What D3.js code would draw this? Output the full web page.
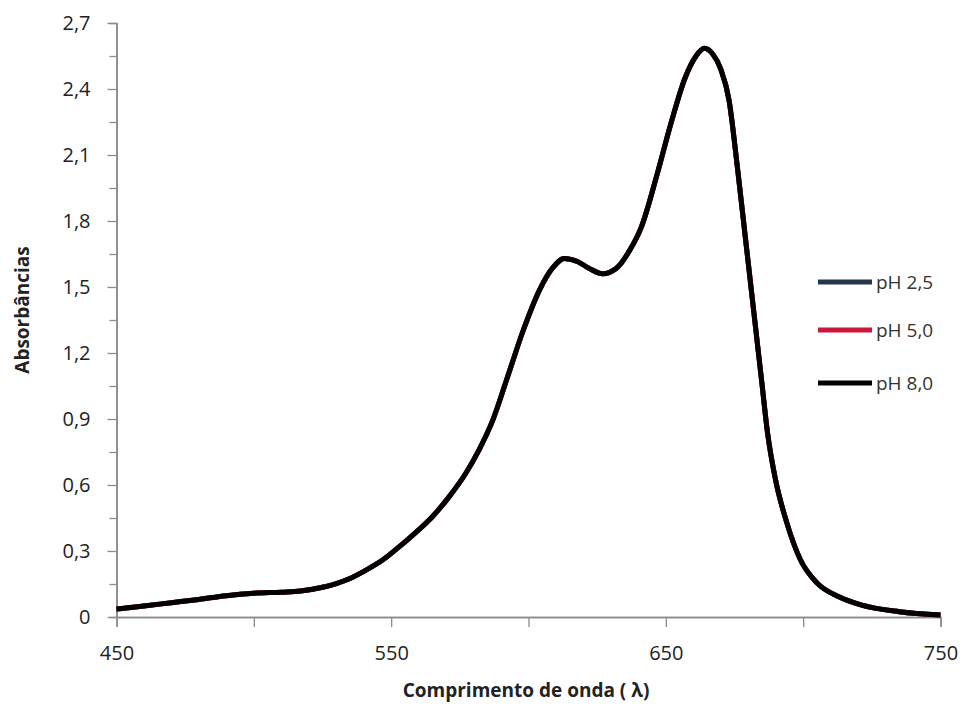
<!DOCTYPE html>
<html>
<head>
<meta charset="utf-8">
<script src="https://cdn.jsdelivr.net/npm/d3@7"></script>
<style>
  body { margin: 0; background: #fff; }
  svg { display: block; font-family: "Open Sans", "DejaVu Sans", sans-serif; }
</style>
</head>
<body>
<script>
// wavelengths (nm)
var wavelengths = [450, 460, 470, 480, 490, 500, 510, 517, 525, 530, 535, 541, 547, 553, 559, 565, 571, 577,
  582, 587, 592, 598, 604, 609, 613, 618, 622, 627, 632, 637, 641, 647, 652, 657, 661, 664, 667, 670,
  673, 676, 679, 682, 685, 687, 690, 694, 699, 705, 713, 721, 735, 750];
// absorbance (all three curves lie on top of each other, only pH 8,0 is visible)
var absorbance = [0.036, 0.05, 0.065, 0.08, 0.097, 0.108, 0.113, 0.118, 0.135, 0.152, 0.175, 0.214, 0.26, 0.32,
  0.385, 0.456, 0.545, 0.65, 0.76, 0.895, 1.077, 1.30, 1.486, 1.59, 1.63, 1.615, 1.585, 1.56, 1.585, 1.67,
  1.77, 2.02, 2.25, 2.45, 2.55, 2.585, 2.56, 2.49, 2.35, 2.05, 1.72, 1.39, 1.06, 0.84, 0.62, 0.43, 0.26,
  0.155, 0.092, 0.055, 0.024, 0.009];

var seriesNames = ["pH 2,5", "pH 5,0", "pH 8,0"];
var seriesColors = ["#25354a", "#c8163d", "#000000"];

var xTicks = [450, 550, 650, 750];
var xMinorTicks = [500, 600, 700];
var yTicks = [0, 0.3, 0.6, 0.9, 1.2, 1.5, 1.8, 2.1, 2.4, 2.7];
var yMinorTicks = [0.15, 0.45, 0.75, 1.05, 1.35, 1.65, 1.95, 2.25, 2.55];

var width = 967, height = 706;
var plotLeft = 116.5, plotRight = 940.5, plotTop = 23, plotBottom = 617;

var svg = d3.select("body").append("svg")
  .attr("width", width)
  .attr("height", height);

var x = d3.scaleLinear().domain([450, 750]).range([plotLeft, plotRight]);
var y = d3.scaleLinear().domain([0, 2.7]).range([plotBottom, plotTop]);

var fmt = function(d) { return d === 0 ? "0" : d3.format(".1f")(d).replace(".", ","); };

// x axis
var xAxis = svg.append("g")
  .attr("transform", "translate(0," + plotBottom + ")")
  .call(d3.axisBottom(x).tickValues(xTicks).tickSize(10).tickSizeOuter(0).tickPadding(19).tickFormat(d3.format("d")));
xAxis.append("g")
  .call(d3.axisBottom(x).tickValues(xMinorTicks).tickSize(10).tickFormat(""));

// y axis
var yAxis = svg.append("g")
  .attr("transform", "translate(" + plotLeft + ",0)")
  .call(d3.axisLeft(y).tickValues(yTicks).tickSize(9).tickSizeOuter(0).tickPadding(17).tickFormat(fmt));
yAxis.append("g")
  .call(d3.axisLeft(y).tickValues(yMinorTicks).tickSize(7).tickFormat(""));

svg.selectAll(".domain").attr("stroke", "#8a8a8a").attr("stroke-width", 1.5);
svg.selectAll(".tick line").attr("stroke", "#8a8a8a").attr("stroke-width", 1.3);
svg.selectAll(".tick text")
  .style("font-size", "20px")
  .style("font-family", "'Open Sans', sans-serif")
  .attr("fill", "#222");
xAxis.select("g").select(".domain").remove();
yAxis.select("g").select(".domain").remove();

// axis titles
svg.append("text")
  .attr("x", 526)
  .attr("y", 697)
  .attr("text-anchor", "middle")
  .style("font-size", "19px")
  .style("font-weight", "bold")
  .attr("fill", "#222")
  .text("Comprimento de onda ( λ)");

svg.append("text")
  .attr("transform", "translate(29,310) rotate(-90)")
  .attr("text-anchor", "middle")
  .style("font-size", "19px")
  .style("font-weight", "bold")
  .attr("fill", "#222")
  .text("Absorbâncias");

// the curves
var points = wavelengths.map(function(w, i) { return [w, absorbance[i]]; });
var line = d3.line()
  .x(function(d) { return x(d[0]); })
  .y(function(d) { return y(d[1]); })
  .curve(d3.curveMonotoneX);

svg.append("g")
  .selectAll("path")
  .data(seriesNames)
  .enter().append("path")
  .attr("d", line(points))
  .attr("fill", "none")
  .attr("stroke", function(d, i) { return seriesColors[i]; })
  .attr("stroke-width", 5)
  .attr("stroke-linejoin", "round");

// legend
var legendY = [282, 330, 383];
var legend = svg.append("g")
  .selectAll("g")
  .data(seriesNames)
  .enter().append("g")
  .attr("transform", function(d, i) { return "translate(818," + legendY[i] + ")"; });
legend.append("line")
  .attr("x1", 0).attr("x2", 54)
  .attr("stroke", function(d, i) { return seriesColors[i]; })
  .attr("stroke-width", 5);
legend.append("text")
  .attr("x", 58)
  .attr("dy", "0.35em")
  .style("font-size", "19px")
  .attr("fill", "#333")
  .text(function(d) { return d; });
</script>
</body>
</html>
